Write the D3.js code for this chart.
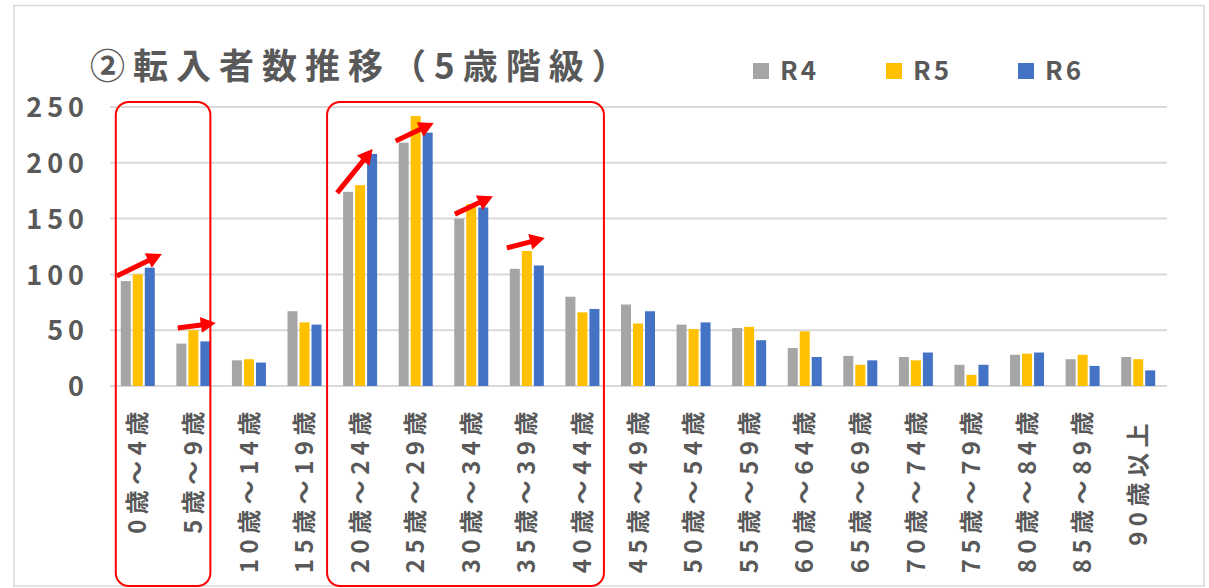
<!DOCTYPE html>
<html lang="ja">
  <head>
  <meta charset="utf-8"/>
    <script type="text/javascript" src="https://cdnjs.cloudflare.com/ajax/libs/d3/7.8.5/d3.min.js"></script>
    <style>
      body { margin: 0; background: #fff; }
      text { font-family: "Noto Sans CJK JP", "Noto Sans", sans-serif; fill: #595959; }
    </style>
  </head>
  <body>
<svg class="fillmeup"></svg>
    <script type="text/javascript">

// age bands
var categories = ["0歳～4歳", "5歳～9歳", "10歳～14歳", "15歳～19歳", "20歳～24歳", "25歳～29歳",
  "30歳～34歳", "35歳～39歳", "40歳～44歳", "45歳～49歳", "50歳～54歳", "55歳～59歳",
  "60歳～64歳", "65歳～69歳", "70歳～74歳", "75歳～79歳", "80歳～84歳", "85歳～89歳", "90歳以上"];
var seriesNames = ["R4", "R5", "R6"];
var r4 = [94, 38, 23, 67, 174, 218, 150, 105, 80, 73, 55, 52, 34, 27, 26, 19, 28, 24, 26];
var r5 = [100, 50, 24, 57, 180, 242, 163, 121, 66, 56, 51, 53, 49, 19, 23, 10, 29, 28, 24];
var r6 = [106, 40, 21, 55, 208, 227, 160, 108, 69, 67, 57, 41, 26, 23, 30, 19, 30, 18, 14];
var yTicks = [0, 50, 100, 150, 200, 250];
var colors = ["#a5a5a5", "#ffc000", "#4472c4"];

// hand drawn highlights: boxes over category ranges, arrows [category, dx, value] -> [dx, value]
var boxes = [["0歳～4歳", "5歳～9歳"], ["20歳～24歳", "40歳～44歳"]];
var arrows = [
  [0, -21, 98.6, 24, 118.3],
  [1, -15.6, 52, 22.4, 56.5],
  [4, -23, 173, 12.5, 212.4],
  [5, -20, 219.5, 18, 235.7],
  [6, -16.4, 154, 21.6, 170],
  [7, -20, 123.7, 18, 132.6]
];

var width = 1209, height = 588;
var svg = d3.select(".fillmeup").attr("width", width).attr("height", height);

// outer chart border
svg.append("rect").attr("x", 14).attr("y", 5.5).attr("width", 1190).attr("height", 580.5)
  .attr("fill", "#fff").attr("stroke", "#d9d9d9").attr("stroke-width", 1.5);

var x0 = d3.scaleBand().domain(categories).range([110, 1166])
  .paddingInner(0.388).paddingOuter(0.194);
var x1 = d3.scaleBand().domain(seriesNames).range([0, 34]).paddingInner(1 / 6);
var y = d3.scaleLinear().domain([0, 250]).range([386, 107]);

// gridlines
svg.append("g").selectAll("line").data(yTicks).enter().append("line")
  .attr("x1", 110).attr("x2", 1167)
  .attr("y1", function(d) { return y(d); }).attr("y2", function(d) { return y(d); })
  .attr("stroke", "#d9d9d9").attr("stroke-width", 2);

// y labels
var yAxis = d3.axisLeft(y).tickValues(yTicks).tickSize(0).tickPadding(0);
var ya = svg.append("g").attr("transform", "translate(89,0)").call(yAxis);
ya.select(".domain").remove();
ya.selectAll("text").attr("font-size", 27).attr("font-weight", "bold")
  .attr("letter-spacing", 5).attr("dy", "0.36em").style("font-family", null).attr("fill", "#595959");

// bars
var table = categories.map(function(c, i) { return { cat: c, vals: [r4[i], r5[i], r6[i]] }; });
var groups = svg.append("g").selectAll("g").data(table).enter().append("g")
  .attr("transform", function(d) { return "translate(" + x0(d.cat) + ",0)"; });
groups.selectAll("rect").data(function(d) {
    return d.vals.map(function(v, j) { return { name: seriesNames[j], v: v, c: colors[j] }; });
  })
  .enter().append("rect")
  .attr("x", function(d) { return x1(d.name); })
  .attr("width", x1.bandwidth())
  .attr("y", function(d) { return y(d.v); })
  .attr("height", function(d) { return y(0) - y(d.v); })
  .attr("fill", function(d) { return d.c; });

// x labels, rotated
svg.append("g").selectAll("text").data(categories).enter().append("text")
  .attr("transform", function(d) {
    return "translate(" + (x0(d) + x0.bandwidth() / 2) + "," + (d === "90歳以上" ? 418 : 406) + ") rotate(-90)";
  })
  .attr("text-anchor", "end").attr("dy", "0.36em")
  .attr("font-size", 24).attr("font-weight", "bold").attr("letter-spacing", 5.5)
  .text(function(d) { return d; });

// title
svg.append("text").attr("x", 90).attr("y", 79).attr("font-size", 35).attr("font-weight", "bold")
  .attr("letter-spacing", 8).text("②転入者数推移（5歳階級）");

// legend
var leg = svg.append("g").selectAll("g").data(seriesNames).enter().append("g")
  .attr("transform", function(d, i) { return "translate(" + [753, 886, 1018][i] + ",63)"; });
leg.append("rect").attr("width", 16).attr("height", 16).attr("fill", function(d, i) { return colors[i]; });
leg.append("text").attr("x", 27).attr("y", 8).attr("dy", "0.36em").attr("font-size", 26)
  .attr("font-weight", "bold").attr("letter-spacing", 3).text(function(d) { return d; });

// red boxes
svg.append("g").selectAll("rect").data(boxes).enter().append("rect")
  .attr("x", function(d, i) { return x0(d[0]) - (i === 0 ? 5 : 16); })
  .attr("y", 102)
  .attr("width", function(d, i) { return x0(d[1]) + x0.bandwidth() - x0(d[0]) + (i === 0 ? 5 : 20.5); })
  .attr("height", 484)
  .attr("rx", 13).attr("fill", "none").attr("stroke", "#ff0000").attr("stroke-width", 2);

// red arrows
var ag = svg.append("g").selectAll("g").data(arrows).enter().append("g");
ag.each(function(d) {
  var cx = x0(categories[d[0]]) + x0.bandwidth() / 2;
  var xa = cx + d[1], ya2 = y(d[2]), xb = cx + d[3], yb = y(d[4]);
  var ang = Math.atan2(yb - ya2, xb - xa);
  var hl = 15, hw = 8;
  var bx = xb - hl * Math.cos(ang), by = yb - hl * Math.sin(ang);
  var g = d3.select(this);
  g.append("line").attr("x1", xa).attr("y1", ya2).attr("x2", bx + 2 * Math.cos(ang)).attr("y2", by + 2 * Math.sin(ang))
    .attr("stroke", "#ff0000").attr("stroke-width", 5);
  var px = -Math.sin(ang), py = Math.cos(ang);
  g.append("polygon")
    .attr("points", [[xb, yb], [bx + px * hw, by + py * hw], [bx - px * hw, by - py * hw]].join(" "))
    .attr("fill", "#ff0000");
});
    </script>
  </body>
</html>
